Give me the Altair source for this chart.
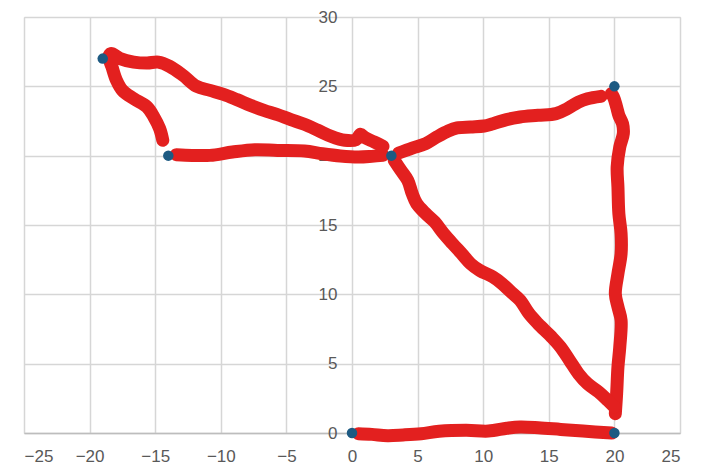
import altair as alt
import pandas as pd

# Blue marker points
pt_x = [0, 20, 20, 3, -14, -19]
pt_y = [0, 0, 25, 20, 20, 27]

# Hand-drawn red strokes (x, y)
bottom_x = [0.48, 1.51, 2.71, 3.9, 5.27, 6.64, 8.7, 10.4, 11.8, 12.8, 14.2, 15.9, 17.6, 19.8]
bottom_y = [-0.05, -0.1, -0.19, -0.14, -0.05, 0.12, 0.19, 0.14, 0.34, 0.43, 0.38, 0.26, 0.14, 0.0]

right_x = [20.07, 20.17, 20.27, 20.41, 20.51, 20.27, 20.07, 20.27, 20.51, 20.51, 20.34, 20.27, 20.21, 20.41, 20.68, 20.62, 20.34, 20.17, 19.93, 19.76]
right_y = [1.39, 2.84, 4.76, 6.2, 8.13, 9.09, 10.05, 11.49, 12.93, 14.38, 15.82, 17.74, 19.18, 20.63, 21.59, 22.31, 22.91, 23.51, 24.23, 24.47]

diag_x = [3.22, 3.73, 4.25, 4.59, 4.93, 5.62, 6.3, 6.99, 7.67, 8.36, 9.04, 9.73, 10.75, 11.44, 12.12, 12.81, 13.49, 14.18, 15.21, 15.89, 16.58, 17.26, 17.95, 18.8, 19.49, 20.0]
diag_y = [19.66, 18.94, 18.22, 17.26, 16.54, 15.82, 15.22, 14.38, 13.65, 12.93, 12.21, 11.73, 11.25, 10.77, 10.17, 9.57, 8.61, 7.88, 6.92, 6.2, 5.24, 4.28, 3.56, 2.96, 2.36, 1.88]

upper_x = [3.56, 4.59, 5.62, 6.47, 7.33, 8.01, 9.04, 10.07, 10.75, 11.78, 12.81, 14.18, 15.55, 16.4, 17.26, 17.95, 18.97]
upper_y = [20.19, 20.55, 20.87, 21.35, 21.78, 22.0, 22.07, 22.14, 22.31, 22.6, 22.79, 22.91, 23.03, 23.39, 23.87, 24.11, 24.28]

lefth_x = [-13.39, -12.19, -10.82, -9.11, -7.4, -5.68, -3.63, -2.26, -0.89, 0.48, 1.51, 2.36]
lefth_y = [20.07, 20.02, 20.02, 20.26, 20.43, 20.38, 20.34, 20.14, 19.98, 19.9, 19.95, 20.02]

loop_x = [-14.42, -14.66, -15.1, -15.62, -16.64, -17.5, -17.95, -18.29, -18.53, -18.36, -17.67, -16.64, -15.62, -14.76, -13.9, -12.88, -11.85, -10.82, -9.79, -8.77, -7.74, -6.71, -5.68, -4.66, -3.63, -2.6, -1.58, -0.55, 0.31, 0.65, 0.99, 1.68, 2.36]
loop_y = [21.11, 21.95, 22.79, 23.51, 24.11, 24.71, 25.43, 26.39, 27.12, 27.36, 27.0, 26.75, 26.68, 26.75, 26.44, 25.79, 25.0, 24.71, 24.42, 24.04, 23.63, 23.27, 22.96, 22.6, 22.26, 21.83, 21.39, 21.11, 21.15, 21.54, 21.3, 20.99, 20.67]

x_ticks = [-25, -20, -15, -10, -5, 0, 5, 10, 15, 20, 25]
y_ticks = [0, 5, 10, 15, 20, 25, 30]

strokes = [("bottom", bottom_x, bottom_y), ("right", right_x, right_y),
           ("diag", diag_x, diag_y), ("upper", upper_x, upper_y),
           ("lefth", lefth_x, lefth_y), ("loop", loop_x, loop_y)]
rows = []
for name, xs, ys in strokes:
    for i, (a, b) in enumerate(zip(xs, ys)):
        rows.append({"s": name, "i": i, "x": a, "y": b})
lines_df = pd.DataFrame(rows)
pts_df = pd.DataFrame({"x": pt_x, "y": pt_y})

FONT = "Liberation Sans Narrow, Liberation Sans, Arial, sans-serif"
GRID = "#d6d6d6"

xscale = alt.Scale(domain=[-25, 25], nice=False, zero=False)
yscale = alt.Scale(domain=[0, 30], nice=False, zero=False)

xenc = alt.X("x:Q", scale=xscale, axis=alt.Axis(values=x_ticks, title=None, ticks=False,
             domain=True, domainColor="#bdbdbd", domainWidth=1.5,
             grid=True, gridColor=GRID, gridWidth=1.5,
             labelFont=FONT, labelFontSize=17, labelColor="#595959", labelPadding=15))
yenc = alt.Y("y:Q", scale=yscale, axis=alt.Axis(values=y_ticks, title=None, ticks=False,
             domain=False, grid=True, gridColor=GRID, gridWidth=1.5, offset=-328,
             labelFont=FONT, labelFontSize=17, labelColor="#595959", labelPadding=15))

lines = alt.Chart(lines_df).mark_line(
    color="#e3201f", strokeWidth=13, strokeCap="round", strokeJoin="round",
    interpolate="catmull-rom"
).encode(x=xenc, y=yenc, detail="s:N", order="i:Q")

pts = alt.Chart(pts_df).mark_circle(color="#1d5a82", opacity=1, size=110).encode(
    x=alt.X("x:Q", scale=xscale), y=alt.Y("y:Q", scale=yscale))

chart = alt.layer(lines, pts).properties(
    width=656, height=416,
    autosize=alt.AutoSizeParams(type="none"),
    padding={"left": 24, "top": 17, "right": 22, "bottom": 39},
).configure_view(stroke=None).configure(background="white")

chart.save("out.html", embed_options={"renderer": "svg", "actions": False})
